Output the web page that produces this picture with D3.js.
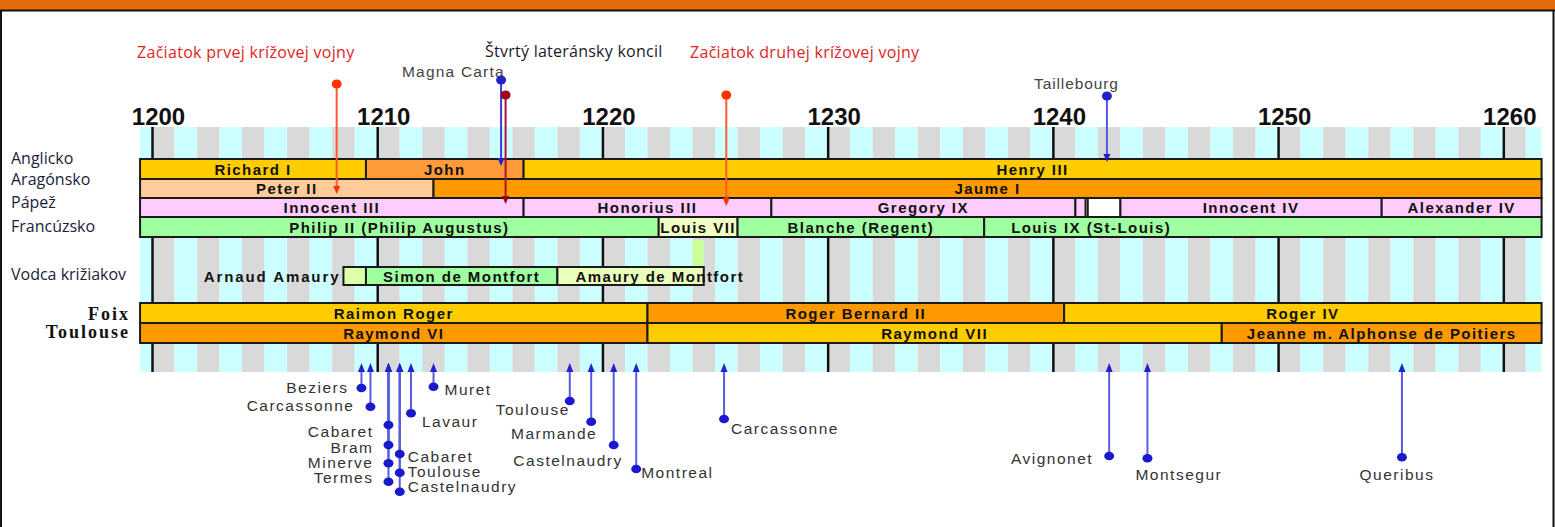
<!DOCTYPE html>
<html><head><meta charset="utf-8">
<script src="https://cdnjs.cloudflare.com/ajax/libs/d3/7.8.5/d3.min.js"></script>
<style>
html,body{margin:0;padding:0;background:#fff;}
svg{display:block;}
</style></head>
<body>
<svg id="chart" width="1555" height="527"></svg>
<script>
// ---------------- DATA ----------------
const decadeTicks = [1200, 1210, 1220, 1230, 1240, 1250, 1260];
const rowLabels = ["Anglicko", "Aragónsko", "Pápež", "Francúzsko", "Vodca križiakov"];
const houseLabels = ["Foix", "Toulouse"];

const england = [
  {label: "Richard I", from: 1199.47, to: 1209.5},
  {label: "John", from: 1209.5, to: 1216.5},
  {label: "Henry III", from: 1216.5, to: 1261.7}
];
const aragon = [
  {label: "Peter II", from: 1199.47, to: 1212.5},
  {label: "Jaume I", from: 1212.5, to: 1261.7}
];
const popes = [
  {label: "Innocent III", from: 1199.47, to: 1216.5},
  {label: "Honorius III", from: 1216.5, to: 1227.5},
  {label: "Gregory IX", from: 1227.5, to: 1241.0},
  {label: "", from: 1241.0, to: 1241.45},
  {label: " ", from: 1241.55, to: 1243.0},
  {label: "Innocent IV", from: 1243.0, to: 1254.6},
  {label: "Alexander IV", from: 1254.6, to: 1261.7}
];
const france = [
  {label: "Philip II (Philip Augustus)", from: 1199.47, to: 1222.5},
  {label: "Louis VII", from: 1222.5, to: 1226.0},
  {label: "Blanche (Regent)", from: 1226.0, to: 1236.95},
  {label: "Louis IX (St-Louis)", from: 1236.95, to: 1261.7}
];
const crusadeLeaders = [
  {label: "Arnaud Amaury", from: 1208.5, to: 1209.5},
  {label: "Simon de Montfort", from: 1209.5, to: 1218.0},
  {label: "Amaury de Montfort", from: 1218.0, to: 1224.5}
];
const foixCounts = [
  {label: "Raimon Roger", from: 1199.47, to: 1222.0},
  {label: "Roger Bernard II", from: 1222.0, to: 1240.5},
  {label: "Roger IV", from: 1240.5, to: 1261.7}
];
const toulouseCounts = [
  {label: "Raymond VI", from: 1199.47, to: 1222.0},
  {label: "Raymond VII", from: 1222.0, to: 1247.5},
  {label: "Jeanne m. Alphonse de Poitiers", from: 1247.5, to: 1261.7}
];

const topEvents = [
  {label: "Začiatok prvej krížovej vojny", year: 1208.2},
  {label: "Magna Carta", year: 1215.5},
  {label: "Štvrtý lateránsky koncil", year: 1215.7},
  {label: "Začiatok druhej krížovej vojny", year: 1225.5},
  {label: "Taillebourg", year: 1242.4}
];

const sieges = [
  {place: "Beziers", year: 1209.3},
  {place: "Carcassonne", year: 1209.7},
  {place: "Cabaret", year: 1210.5},
  {place: "Bram", year: 1210.5},
  {place: "Minerve", year: 1210.5},
  {place: "Termes", year: 1210.5},
  {place: "Cabaret", year: 1211.0},
  {place: "Toulouse", year: 1211.0},
  {place: "Castelnaudry", year: 1211.0},
  {place: "Lavaur", year: 1211.5},
  {place: "Muret", year: 1212.5},
  {place: "Toulouse", year: 1218.55},
  {place: "Marmande", year: 1219.5},
  {place: "Castelnaudry", year: 1220.5},
  {place: "Montreal", year: 1221.5},
  {place: "Carcassonne", year: 1225.4},
  {place: "Avignonet", year: 1242.5},
  {place: "Montsegur", year: 1244.2},
  {place: "Queribus", year: 1255.5}
];

// ---------------- LAYOUT / STYLE ----------------
const W = 1555, H = 527;
const yearStart = 1199.47, yearEnd = 1261.7;
const x = d3.scaleLinear().domain([1200, 1260]).range([152, 1503.3]);

const fills = {
  "Richard I": "#ffcc00", "John": "#ff9a3a", "Henry III": "#ffcc00",
  "Peter II": "#ffcc99", "Jaume I": "#ff9900",
  "Innocent III": "#ffccff", "Honorius III": "#ffccff", "Gregory IX": "#ffccff",
  "": "#ffccff", " ": "#ffffff", "Innocent IV": "#ffccff", "Alexander IV": "#ffccff",
  "Philip II (Philip Augustus)": "#a0ffa0", "Louis VII": "#f2ffc4",
  "Blanche (Regent)": "#a0ffa0", "Louis IX (St-Louis)": "#a0ffa0",
  "Arnaud Amaury": "#dcffaa", "Simon de Montfort": "#a0ffa0", "Amaury de Montfort": "#eaffbc",
  "Raimon Roger": "#ffcc00", "Roger Bernard II": "#ff9900", "Roger IV": "#ffcc00",
  "Raymond VI": "#ff9900", "Raymond VII": "#ffcc00", "Jeanne m. Alphonse de Poitiers": "#ff9900"
};
const labelCenterYear = {"Louis IX (St-Louis)": 1241.7, "Amaury de Montfort": 1222.55};

const rows = [
  {data: england, y0: 159, y1: 179},
  {data: aragon, y0: 179, y1: 198},
  {data: popes, y0: 198, y1: 217},
  {data: france, y0: 217, y1: 237},
  {data: crusadeLeaders, y0: 267, y1: 285},
  {data: foixCounts, y0: 303, y1: 323},
  {data: toulouseCounts, y0: 323, y1: 343}
];
const stripeBands = [[127, 159], [237, 303], [343, 372]];
const barFont = {family: "Liberation Sans, Arial, sans-serif", size: 15, ls: 1.45};

const svg = d3.select("#chart");

// frame
svg.append("rect").attr("x", 0).attr("y", 0).attr("width", W).attr("height", 10).attr("fill", "#e36c0a");
svg.append("line").attr("x1", 0).attr("x2", W).attr("y1", 10.5).attr("y2", 10.5).attr("stroke", "#111").attr("stroke-width", 2);
svg.append("line").attr("x1", 1).attr("x2", 1).attr("y1", 10).attr("y2", H).attr("stroke", "#111").attr("stroke-width", 2);
svg.append("line").attr("x1", W - 1.5).attr("x2", W - 1.5).attr("y1", 10).attr("y2", H).attr("stroke", "#111").attr("stroke-width", 2);

// stripes
const stripeYears = d3.range(1199, 1262);
stripeBands.forEach(([a, b]) => {
  svg.append("g").selectAll("rect").data(stripeYears).join("rect")
    .attr("x", d => x(Math.max(d, yearStart)))
    .attr("width", d => x(Math.min(d + 1, yearEnd)) - x(Math.max(d, yearStart)))
    .attr("y", a).attr("height", b - a)
    .attr("fill", d => d % 2 === 0 ? "#d9d9d9" : "#ccffff");
  const ax = svg.append("g").attr("transform", `translate(0,${a})`)
    .call(d3.axisBottom(x).tickValues(decadeTicks).tickSize(b - a).tickFormat(""));
  ax.select(".domain").remove();
  ax.selectAll(".tick line").attr("stroke", "#111").attr("stroke-width", 2.5);
});

// highlight in middle band
svg.append("rect").attr("x", x(1224.0)).attr("width", x(1224.5) - x(1224.0))
  .attr("y", 240).attr("height", 27).attr("fill", "#ccff99");

// year labels
const yAxis = svg.append("g").attr("transform", "translate(6,125)")
  .call(d3.axisTop(x).tickValues(decadeTicks).tickSize(0).tickPadding(0).tickFormat(d3.format("d")));
yAxis.select(".domain").remove();
yAxis.selectAll("text").attr("font-family", "Liberation Sans, Arial, sans-serif")
  .attr("font-weight", "bold").attr("font-size", 24).attr("fill", "#111");

// bars
rows.forEach(r => {
  const g = svg.append("g");
  g.selectAll("rect").data(r.data).join("rect")
    .attr("x", d => x(d.from)).attr("width", d => x(d.to) - x(d.from))
    .attr("y", r.y0).attr("height", r.y1 - r.y0)
    .attr("fill", d => fills[d.label]).attr("stroke", "#1a1a1a").attr("stroke-width", 2);
  g.selectAll("text").data(r.data.filter(d => d.label.trim() !== "" && d.label !== "Arnaud Amaury")).join("text")
    .attr("x", d => labelCenterYear[d.label] ? x(labelCenterYear[d.label]) : (x(d.from) + x(d.to)) / 2)
    .attr("y", (r.y0 + r.y1) / 2 + 5.5)
    .attr("text-anchor", "middle")
    .attr("font-family", barFont.family).attr("font-weight", "bold")
    .attr("font-size", barFont.size).attr("letter-spacing", barFont.ls).attr("fill", "#111")
    .text(d => d.label);
});
// Arnaud Amaury label to the left of its box
const aa = crusadeLeaders[0];
svg.append("text").attr("x", x(aa.from) - 3).attr("y", 281.5).attr("text-anchor", "end")
  .attr("font-family", barFont.family).attr("font-weight", "bold")
  .attr("font-size", barFont.size).attr("letter-spacing", 1.9).attr("fill", "#111").text(aa.label);

// row labels
const rowBaselines = [164, 185, 208, 232, 280];
svg.append("g").selectAll("text").data(rowLabels).join("text")
  .attr("x", 11).attr("y", (d, i) => rowBaselines[i])
  .attr("font-family", "Open Sans, sans-serif").attr("font-size", 16).attr("fill", "#1c1c3c")
  .text(d => d);
const houseBaselines = [320, 338];
svg.append("g").selectAll("text").data(houseLabels).join("text")
  .attr("x", 130).attr("y", (d, i) => houseBaselines[i]).attr("text-anchor", "end")
  .attr("font-family", "Liberation Serif, Times New Roman, serif").attr("font-weight", "bold")
  .attr("font-size", 18).attr("letter-spacing", 2).attr("fill", "#111")
  .text(d => d);

// top events
const topLayout = [
  {dotY: 84, tipY: 194, line: "#ff5a30", dot: "#ff3300", tx: 137, ty: 58, tc: "#e02424", font: "Open Sans, sans-serif", fs: 16, ls: 0.3},
  {dotY: 80, tipY: 166, line: "#3a3ad8", dot: "#2222cc", tx: 402, ty: 77, tc: "#444", font: "Liberation Sans, Arial, sans-serif", fs: 15.5, ls: 1.2},
  {dotY: 95, tipY: 204, line: "#b01030", dot: "#a00018", tx: 485, ty: 57, tc: "#1a1a2a", font: "Open Sans, sans-serif", fs: 16, ls: 0.25},
  {dotY: 95, tipY: 206, line: "#ff5a30", dot: "#ff3300", tx: 690, ty: 58, tc: "#e02424", font: "Open Sans, sans-serif", fs: 16, ls: 0.3},
  {dotY: 96, tipY: 162, line: "#5555dd", dot: "#2222cc", tx: 1034, ty: 89, tc: "#444", font: "Liberation Sans, Arial, sans-serif", fs: 15.5, ls: 0.9}
];
const te = svg.append("g");
topEvents.forEach((d, i) => {
  const L = topLayout[i], px = x(d.year);
  te.append("line").attr("x1", px).attr("x2", px).attr("y1", L.dotY).attr("y2", L.tipY - 4)
    .attr("stroke", L.line).attr("stroke-width", 2);
  te.append("path").attr("d", `M${px - 3.5},${L.tipY - 8} L${px + 3.5},${L.tipY - 8} L${px},${L.tipY} Z`).attr("fill", L.dot);
  te.append("ellipse").attr("cx", px).attr("cy", L.dotY).attr("rx", 5).attr("ry", 4.5).attr("fill", L.dot);
  te.append("text").attr("x", L.tx).attr("y", L.ty).attr("font-family", L.font)
    .attr("font-size", L.fs).attr("letter-spacing", L.ls).attr("fill", L.tc).text(d.label);
});

// bottom events
const tipY = 363;
const siegeLayout = [
  {dotY: 388, dx: -13, dy: -1, a: "end"},
  {dotY: 406.7, dx: -16, dy: -1, a: "end"},
  {dotY: 425, dx: -15, dy: 6, a: "end"},
  {dotY: 445, dx: -15, dy: 2, a: "end"},
  {dotY: 463.3, dx: -15, dy: -0.5, a: "end"},
  {dotY: 481.7, dx: -15, dy: -4, a: "end"},
  {dotY: 454, dx: 8, dy: 2, a: "start"},
  {dotY: 472.7, dx: 8, dy: -1, a: "start"},
  {dotY: 491.7, dx: 8, dy: -5, a: "start"},
  {dotY: 413.3, dx: 11, dy: 8, a: "start"},
  {dotY: 386.7, dx: 11, dy: 3, a: "start"},
  {dotY: 401, dx: 0, dy: 8, a: "end"},
  {dotY: 421.7, dx: 6, dy: 12, a: "end"},
  {dotY: 445, dx: 9, dy: 15, a: "end"},
  {dotY: 469, dx: 5, dy: 3, a: "start"},
  {dotY: 419, dx: 7, dy: 9, a: "start"},
  {dotY: 456, dx: -16, dy: 2, a: "end"},
  {dotY: 458.3, dx: -12, dy: 16, a: "start"},
  {dotY: 457.3, dx: -5, dy: 17, a: "middle"}
];
const be = svg.append("g");
sieges.forEach((d, i) => {
  const L = siegeLayout[i], px = x(d.year);
  be.append("line").attr("x1", px).attr("x2", px).attr("y1", L.dotY).attr("y2", tipY + 5)
    .attr("stroke", "#5a5ae0").attr("stroke-width", 2);
  be.append("path").attr("d", `M${px - 3.5},${tipY + 9} L${px + 3.5},${tipY + 9} L${px},${tipY} Z`).attr("fill", "#2222cc");
});
sieges.forEach((d, i) => {
  const L = siegeLayout[i], px = x(d.year);
  be.append("ellipse").attr("cx", px).attr("cy", L.dotY).attr("rx", 5).attr("ry", 4.3).attr("fill", "#1a1acc");
  be.append("text").attr("x", px + L.dx).attr("y", L.dotY + L.dy + 5.5).attr("text-anchor", L.a)
    .attr("font-family", "Liberation Sans, Arial, sans-serif").attr("font-size", 15.5)
    .attr("letter-spacing", 1.5).attr("fill", "#333").text(d.place);
});
</script>
</body></html>
